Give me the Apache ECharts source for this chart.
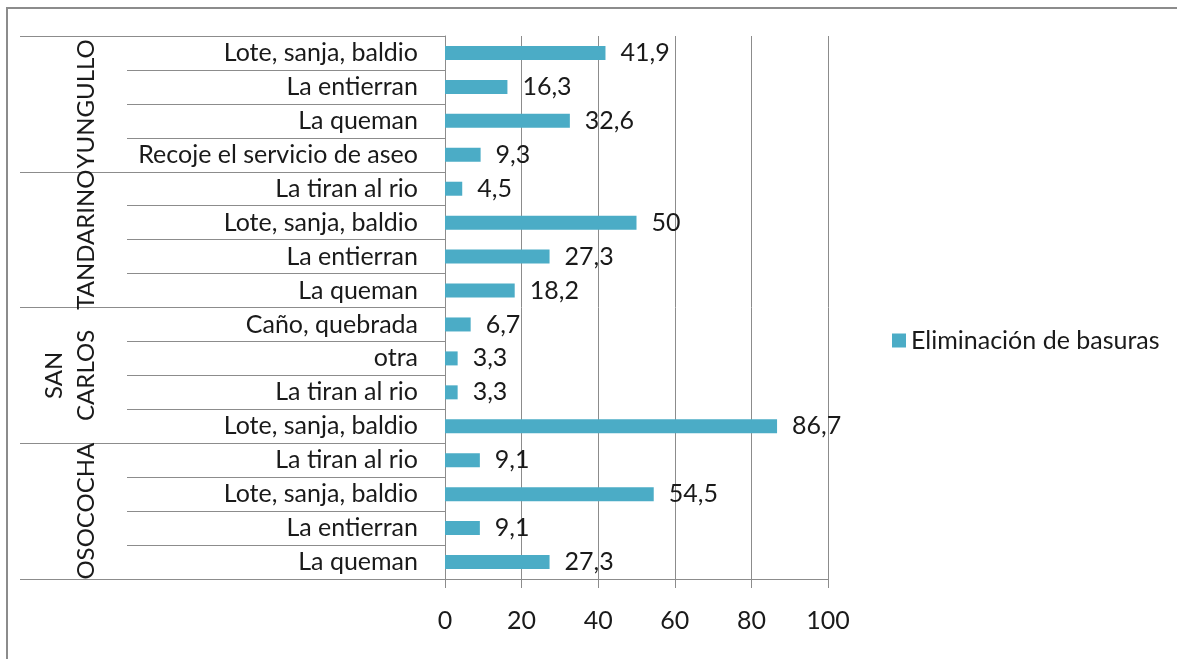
<!DOCTYPE html>
<html>
<head>
<meta charset="utf-8">
<script src="https://cdn.jsdelivr.net/npm/echarts@6/dist/echarts.min.js"></script>
<style>
  html, body { margin: 0; padding: 0; background: #fff; }
  #main { width: 1177px; height: 659px; }
</style>
</head>
<body>
<div id="main"></div>
<script>
  // categorias (de arriba hacia abajo)
  const categorias = [
    "Lote, sanja, baldio", "La entierran", "La queman", "Recoje el servicio de aseo",
    "La tiran al rio", "Lote, sanja, baldio", "La entierran", "La queman",
    "Caño, quebrada", "otra", "La tiran al rio", "Lote, sanja, baldio",
    "La tiran al rio", "Lote, sanja, baldio", "La entierran", "La queman"
  ];
  const veredas = ["YUNGULLO", "TANDARINO", "SAN\nCARLOS", "OSOCOCHA"];
  const valores = [41.9, 16.3, 32.6, 9.3, 4.5, 50, 27.3, 18.2, 6.7, 3.3, 3.3, 86.7, 9.1, 54.5, 9.1, 27.3];
  const ticksX = [0, 20, 40, 60, 80, 100];

  const fuente = "Lato, 'Open Sans', sans-serif";
  const gris = "#8c8c8c";
  const texto = "#1a1a1a";

  var myChart = echarts.init(document.getElementById("main"));
  myChart.setOption({
    animation: false,
    textStyle: { fontFamily: fuente },
    grid: { left: 445, right: 349, top: 36, bottom: 80, containLabel: false },
    legend: {
      left: 887,
      top: 323,
      itemWidth: 14,
      itemHeight: 14,
      itemGap: 8,
      icon: "rect",
      textStyle: { fontSize: 25, color: texto, fontFamily: fuente },
      data: ["Eliminación de basuras"]
    },
    xAxis: {
      type: "value",
      min: ticksX[0],
      max: ticksX[ticksX.length - 1],
      interval: 20,
      axisLine: { show: true, lineStyle: { color: gris } },
      axisTick: { show: true, length: 9, lineStyle: { color: gris } },
      axisLabel: { fontSize: 25, color: texto, margin: 29, fontFamily: fuente },
      splitLine: { show: true, lineStyle: { color: gris } }
    },
    yAxis: [
      {
        type: "category",
        inverse: true,
        data: categorias,
        axisLine: { show: true, lineStyle: { color: gris } },
        axisTick: { show: true, interval: 0, length: 318, lineStyle: { color: gris } },
        axisLabel: { interval: 0, fontSize: 25, color: texto, margin: 27, fontFamily: fuente }
      },
      {
        type: "category",
        inverse: true,
        position: "left",
        data: veredas,
        axisLine: { show: false },
        axisTick: { show: true, interval: 0, length: 425, lineStyle: { color: gris } },
        axisLabel: {
          interval: 0,
          hideOverlap: false,
          rotate: 90,
          fontSize: 24,
          lineHeight: 32,
          color: texto,
          margin: 343,
          fontFamily: fuente
        }
      }
    ],
    series: [
      {
        name: "Eliminación de basuras",
        type: "bar",
        yAxisIndex: 0,
        data: valores,
        barWidth: 14,
        itemStyle: { color: "#4bacc6" },
        label: {
          show: true,
          position: "right",
          distance: 15,
          fontSize: 25,
          color: texto,
          fontFamily: fuente,
          formatter: function (p) {
            return String(p.value).replace(".", ",");
          }
        }
      }
    ],
    graphic: [
      {
        type: "rect",
        shape: { x: 7, y: 8, width: 1300, height: 800 },
        style: { fill: "none", stroke: gris, lineWidth: 2 },
        silent: true
      }
    ]
  });
</script>
</body>
</html>
